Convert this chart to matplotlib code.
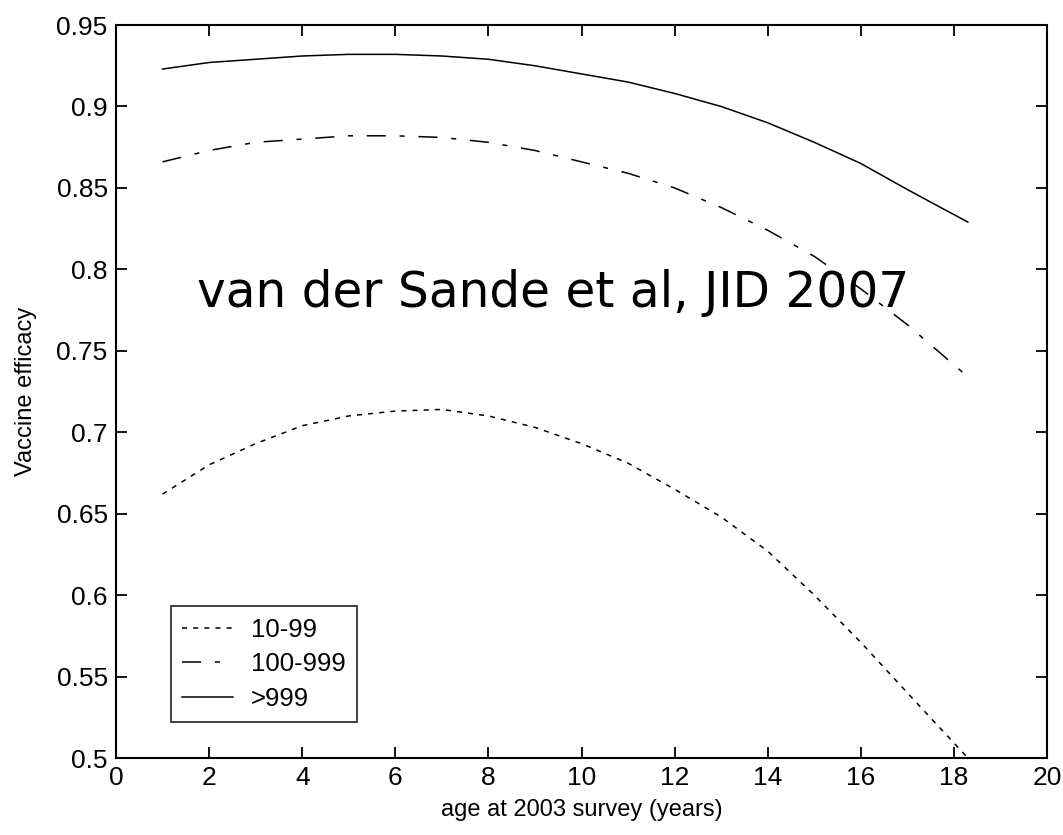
import matplotlib
matplotlib.use("Agg")
import matplotlib.pyplot as plt

age = [1, 2, 3, 4, 5, 6, 7, 8, 9, 10, 11, 12, 13, 14, 15, 16, 17, 18.3]

ve_10_99 = [0.662, 0.680, 0.693, 0.704, 0.710, 0.713, 0.714, 0.710, 0.703, 0.693,
            0.681, 0.665, 0.648, 0.627, 0.600, 0.571, 0.540, 0.500]
ve_100_999 = [0.866, 0.873, 0.878, 0.880, 0.882, 0.882, 0.881, 0.878, 0.873, 0.866,
              0.859, 0.850, 0.838, 0.824, 0.808, 0.788, 0.766, 0.734]
ve_999 = [0.923, 0.927, 0.929, 0.931, 0.932, 0.932, 0.931, 0.929, 0.925, 0.920,
          0.915, 0.908, 0.900, 0.890, 0.878, 0.865, 0.849, 0.829]

labels = ["10-99", "100-999", ">999"]
xticks = list(range(0, 21, 2))
yticks = [0.5, 0.55, 0.6, 0.65, 0.7, 0.75, 0.8, 0.85, 0.9, 0.95]

plt.rcParams['font.family'] = ['Liberation Sans', 'DejaVu Sans']

fig = plt.figure(figsize=(10.63, 8.35), dpi=100)
ax = fig.add_axes([0.1091, 0.0922, 0.8759, 0.8778])

ax.plot(age, ve_10_99, color='black', lw=1.1, dashes=(3.3, 4.0), label=labels[0])
ax.plot(age, ve_100_999, color='black', lw=1.1, dashes=(12.5, 9, 3.3, 9), label=labels[1])
ax.plot(age, ve_999, color='black', lw=1.1, label=labels[2])

ax.set_xlim(0, 20)
ax.set_ylim(0.5, 0.95)
ax.set_xticks(xticks)
ax.set_xticklabels([str(t) for t in xticks])
ax.set_yticks(yticks)
ax.set_yticklabels(["0.5", "0.55", "0.6", "0.65", "0.7", "0.75", "0.8", "0.85", "0.9", "0.95"])
ax.tick_params(direction='in', length=8, width=1.3, labelsize=19, top=True, right=True, pad=6)
for s in ax.spines.values():
    s.set_linewidth(1.5)

ax.set_xlabel("age at 2003 survey (years)", fontsize=17, labelpad=6)
ax.set_ylabel("Vaccine efficacy", fontsize=17, labelpad=14)

ax.text(1.74, 0.777, "van der Sande et al, JID 2007", fontsize=35,
        family='DejaVu Sans', ha='left', va='baseline')

leg = ax.legend(loc='lower left', bbox_to_anchor=(0.059, 0.049), borderaxespad=0,
                fontsize=18.5, frameon=True, fancybox=False, edgecolor='black',
                handlelength=1.95, handletextpad=0.7, labelspacing=0.4,
                borderpad=0.45)
leg.get_frame().set_linewidth(1.3)

fig.savefig("out.png", dpi=100)
